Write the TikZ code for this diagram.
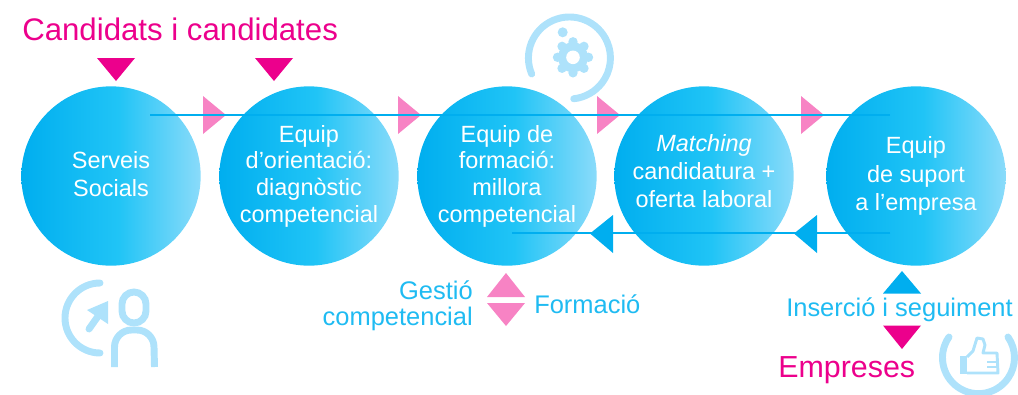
\documentclass[tikz,border=0pt]{standalone}
\usepackage{fontspec}
\setmainfont{Liberation Sans}
\usetikzlibrary{calc}
\definecolor{cblue}{HTML}{00AEEF}
\definecolor{cmid}{HTML}{20C4F6}
\definecolor{clight}{HTML}{8ADBFA}
\definecolor{ctext}{HTML}{1FBBF2}
\definecolor{cpink}{HTML}{F783C4}
\definecolor{cmagenta}{HTML}{EC008C}
\definecolor{cicon}{HTML}{AEE2FB}
\pgfdeclarehorizontalshading{stagefill}{100bp}{color(0bp)=(cblue); color(25bp)=(cblue); color(52bp)=(cmid); color(75bp)=(clight); color(100bp)=(clight)}
\tikzset{
  stage/.style={circle,minimum size=134.5pt,inner sep=0pt,align=center,text=white,
    font=\fontsize{17.6}{21.6}\selectfont,shading=stagefill},
  stagetext/.style={inner sep=0pt,align=center,text=white,font=\fontsize{17.6}{21}\selectfont},
  tight/.style={font=\fontsize{17.6}{20}\selectfont},
  title/.style={font=\fontsize{23.4}{26}\selectfont,text=cmagenta,inner sep=0pt},
  label/.style={font=\fontsize{19.1}{23}\selectfont,text=ctext,inner sep=0pt,align=center},
  flow/.style={draw=cblue,line width=1.2pt},
  icon/.style={draw=cicon,line width=5.2pt,line cap=round},
  thin icon/.style={draw=cicon,line width=2.2pt,line join=round},
}
\begin{document}
\begin{tikzpicture}[x=0.75pt,y=-0.75pt]
  \useasboundingbox (0,0) rectangle (1018,394);
  % stages
  \node [stage] (social) at (111,176) {};
  \node [stagetext] (socialtext) at (111,174) {Serveis\\Socials};
  \node [stage,tight] (orient) at (309,176) {Equip\\d’orientació:\\diagnòstic\\competencial};
  \node [stage,tight] (train)  at (507,176) {Equip de\\formació:\\millora\\competencial};
  \node [stage] (match)  at (704,176) {};
  \node [stagetext] (matchtext) at (704,171) {\textit{Matching}\\candidatura +\\oferta laboral};
  \node [stage] (firm)   at (916,176) {Equip\\de suport\\a l’empresa};
  % flow lines
  \coordinate (t0) at (150,115);
  \coordinate (t1) at (890,115);
  \coordinate (b0) at (890,233);
  \coordinate (b1) at (512,233);
  \foreach \x in {203,398,597,801}
    \fill [cpink] (\x,96) -- (\x+23,115) -- (\x,134) -- cycle;
  \draw [flow] (t0) -- (t1);
  \foreach \x in {613,817}
    \fill [cblue] (\x,215) -- (\x-23,233.5) -- (\x,253) -- cycle;
  \draw [flow] (b0) -- (b1);
  % titles
  \node [title,anchor=base west] (cand) at (22,40) {Candidats i candidates};
  \node [title,anchor=base west,font=\fontsize{22.8}{26}\selectfont] (comp) at (778,377) {Empreses};
  \foreach \x in {97,255}
    \fill [cmagenta] (\x,58) -- (\x+38,58) -- (\x+19,81) -- cycle;
  \fill [cblue] (883,293.5) -- (921,293.5) -- (902,271) -- cycle;
  \fill [cmagenta] (883,325.5) -- (921,325.5) -- (902,349) -- cycle;
  % labels
  \fill [cpink] (487,297) -- (525,297) -- (506,273) -- cycle;
  \fill [cpink] (487,303) -- (525,303) -- (506,326) -- cycle;
  \node [label,anchor=base east,align=right] (gest) at (473,299) {Gestió};
  \node [label,anchor=base east,align=right] (gcom) at (473,325) {competencial};
  \node [label,anchor=base west] (form) at (534,313) {Formació};
  \node [label,anchor=base west] (ins)  at (786,316) {Inserció i seguiment};
  % person icon
  \draw [icon] (100,283) arc [start angle=270,end angle=90,radius=35];
  \draw [icon] (89,329) -- (101,312);
  \fill [cicon] (87,310) -- (108,301) -- (108,324) -- cycle;
  \draw [icon,line cap=butt] (122,304) arc [start angle=180,end angle=360,radius=12] -- (146,311) arc [start angle=0,end angle=180,radius=12] -- cycle;
  \draw [icon,line cap=butt] (114.5,367) -- (114.5,347) arc [start angle=180,end angle=270,radius=17] -- (137,330) arc [start angle=270,end angle=360,radius=17] -- (154.5,367);
  % gear icon
  \draw [icon] (531.7,74) arc [start angle=157,end angle=444,radius=41];
  \fill [cicon] (562.7,32.3) circle [radius=5];
  \fill [cicon] (573,57.3) circle [radius=15];
  \foreach \a in {0,45,...,315}
    \fill [cicon] ($ (573,57.3)+(\a:15.5) $) circle [radius=4.7];
  \fill [white] (573,57.3) circle [radius=6.8];
  % thumb icon
  \draw [icon] (949,337) arc [start angle=215,end angle=-35,radius=36];
  \fill [cicon] (960,356) rectangle (967,374);
  \draw [thin icon] (967,357) -- (973,351) -- (977,338) -- (983,339) -- (985,345) -- (983,353) -- (997,353) -- (998,373) -- (967,373);
  \draw [thin icon] (987,362) -- (997,362);
  \draw [thin icon] (987,367) -- (997,367);
\end{tikzpicture}
\end{document}
